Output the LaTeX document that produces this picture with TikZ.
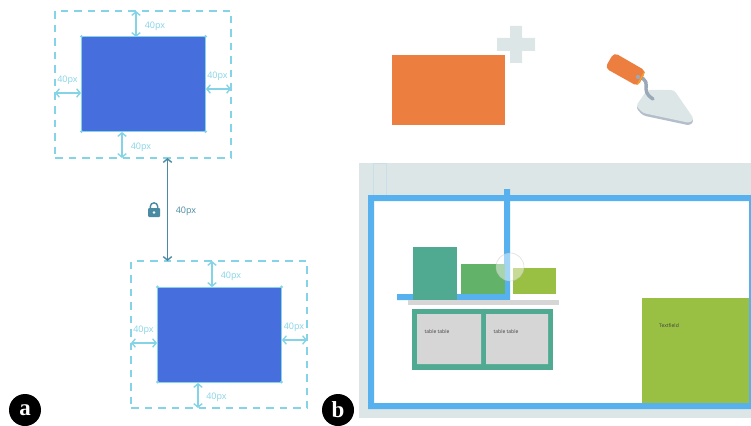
\documentclass[tikz,border=0pt]{standalone}
\usepackage{fontspec}
\setmainfont{Open Sans}
\newfontfamily\tagfont{Liberation Serif}
\usetikzlibrary{arrows.meta}
\definecolor{gapblue}{HTML}{85D3E6}
\definecolor{boxblue}{HTML}{466EDD}
\definecolor{lockteal}{HTML}{4A8AA2}
\definecolor{brickorange}{HTML}{EC7F3F}
\definecolor{paleband}{HTML}{DCE6E7}
\definecolor{framesky}{HTML}{56B1EE}
\definecolor{tealbox}{HTML}{4FAA91}
\definecolor{midgreen}{HTML}{63B269}
\definecolor{limegreen}{HTML}{99BF43}
\definecolor{cellgrey}{HTML}{D6D6D6}
\definecolor{steelgrey}{HTML}{9AA8B8}
\tikzset{
  marginbox/.style={draw=gapblue, line width=1.1pt, dash pattern=on 7.5pt off 6pt, minimum width=176, minimum height=147, inner sep=0, outer sep=0},
  itembox/.style={draw=gapblue, line width=1pt, fill=boxblue, minimum width=124, minimum height=95, inner sep=0, outer sep=0},
  gaparrow/.style={draw=gapblue, line width=1.4pt, {Straight Barb[length=3.5pt,width=8.5pt]}-{Straight Barb[length=3.5pt,width=8.5pt]}},
  lockarrow/.style={draw=lockteal, line width=1.4pt, {Straight Barb[length=3.5pt,width=8.5pt]}-{Straight Barb[length=3.5pt,width=8.5pt]}},
  gaplabel/.style={text=gapblue, font=\fontsize{9}{11}\selectfont, inner sep=0},
  tagdot/.style={circle, fill=black, text=white, minimum size=32, inner sep=0, font=\tagfont\bfseries\fontsize{23}{25}\selectfont},
  smalltext/.style={text=black!75, font=\fontsize{5}{6}\selectfont, inner sep=0}
}
\begin{document}
\begin{tikzpicture}[x=1pt,y=-1pt]
\useasboundingbox (0,0) rectangle (751,425);
% upper box
\node[marginbox] (outerA) at (143,84.5) {};
\node[itembox] (itemA) at (143.5,84) {};
\fill[gapblue] (itemA.north west) circle (1.6) (itemA.north east) circle (1.6) (itemA.south west) circle (1.6) (itemA.south east) circle (1.6);
\coordinate (atopO) at (136,11); \coordinate (atopI) at (136,37);
\coordinate (aleftO) at (55,93); \coordinate (aleftI) at (81,93);
\coordinate (arightI) at (206,89); \coordinate (arightO) at (231,89);
\coordinate (abotI) at (122,132); \coordinate (abotO) at (122,158);
\draw[gaparrow] (atopO) -- (atopI);
\draw[gaparrow] (aleftO) -- (aleftI);
\draw[gaparrow] (arightI) -- (arightO);
\draw[gaparrow] (abotI) -- (abotO);
\node[gaplabel] (atopL) at (155,26) {40px};
\node[gaplabel] (aleftL) at (67.5,80.5) {40px};
\node[gaplabel] (arightL) at (217.5,76.5) {40px};
\node[gaplabel] (abotL) at (141,147) {40px};
% lower box
\node[marginbox] (outerB) at (219,334.5) {};
\node[itembox] (itemB) at (219.5,334.5) {};
\fill[gapblue] (itemB.north west) circle (1.6) (itemB.north east) circle (1.6) (itemB.south west) circle (1.6) (itemB.south east) circle (1.6);
\coordinate (btopO) at (212,261); \coordinate (btopI) at (212,287);
\coordinate (bleftO) at (131,343); \coordinate (bleftI) at (157,343);
\coordinate (brightI) at (282,340); \coordinate (brightO) at (307,340);
\coordinate (bbotI) at (198,383); \coordinate (bbotO) at (198,408);
\draw[gaparrow] (btopO) -- (btopI);
\draw[gaparrow] (bleftO) -- (bleftI);
\draw[gaparrow] (brightI) -- (brightO);
\draw[gaparrow] (bbotI) -- (bbotO);
\node[gaplabel] (btopL) at (231,276) {40px};
\node[gaplabel] (bleftL) at (143.5,330) {40px};
\node[gaplabel] (brightL) at (294,327) {40px};
\node[gaplabel] (bbotL) at (216.5,397) {40px};
% locked distance
\coordinate (lockU) at (167.5,158); \coordinate (lockD) at (167.5,261);
\draw[lockarrow] (lockU) -- (lockD);
\node[gaplabel, text=lockteal] (lockL) at (186,211) {40px};
\draw[lockteal, line width=1.4pt] (150.3,209) -- (150.3,206.5) arc (180:360:3.7) -- (157.7,209);
\fill[lockteal, rounded corners=1pt] (148,208) rectangle (160,217);
\fill[white] (154,212.5) circle (1.4);
% tags
\node[tagdot] (tagA) at (25,410) {a};
\node[tagdot] (tagB) at (338,410) {b};
% brick and plus
\fill[brickorange] (392,55) rectangle (505,125);
\fill[paleband] (510,26) rectangle (522,63) (497,38) rectangle (535,51);
% trowel
\fill[steelgrey!75!white, rounded corners=3pt] (647,92) -- (674,92) -- (694,121) -- (690,125.5) -- (643,115.5) -- (636,108) -- cycle;
\fill[paleband, rounded corners=3pt] (647,90) -- (674,90) -- (694,119) -- (690,123) -- (643,113) -- (636,106) -- cycle;
\draw[steelgrey, line width=3.4pt, line cap=round] (638,77) .. controls (648,79) and (646,84) .. (646,89) .. controls (646,94) and (650,97) .. (653,99);
\fill[brickorange, rounded corners=4.5pt] (614,52.5) -- (646,71) -- (638,86.5) -- (605,68) -- cycle;
\draw[brickorange!70!yellow, line width=1.2pt] (644.5,72) -- (637.5,84.5);
\fill[steelgrey] (638,77) circle (2.2);
% editor view
\fill[paleband] (359,163) rectangle (751,418);
\draw[paleband!85!framesky, line width=0.6pt] (373,163) rectangle (386,195);
\fill[white] (368,195) rectangle (751,409);
\fill[framesky] (368,195) rectangle (751,201) (368,195) rectangle (374,409) (368,403) rectangle (751,409) (749,195) rectangle (751,409);
\fill[framesky] (504,189) rectangle (510,300) (397,294) rectangle (510,300);
\fill[tealbox] (413,247) rectangle (457,300);
\fill[midgreen] (461,264) rectangle (505,294);
\fill[limegreen] (513,268) rectangle (556,294);
\fill[cellgrey] (408,300) rectangle (558.5,305);
\fill[tealbox] (412,309) rectangle (553,369.5);
\fill[cellgrey] (417,314) rectangle (481,364) (486,314) rectangle (548,364);
\node[smalltext] (cellL) at (437,332) {table table};
\node[smalltext] (cellR) at (506,332) {table table};
\fill[limegreen] (642,298) rectangle (749,403);
\node[smalltext] (fieldL) at (669,326) {Textfield};
\fill[white, fill opacity=0.45] (510,267) circle (14);
\draw[black!25, opacity=0.5, line width=0.6pt] (510,267) circle (14);
\end{tikzpicture}
\end{document}
